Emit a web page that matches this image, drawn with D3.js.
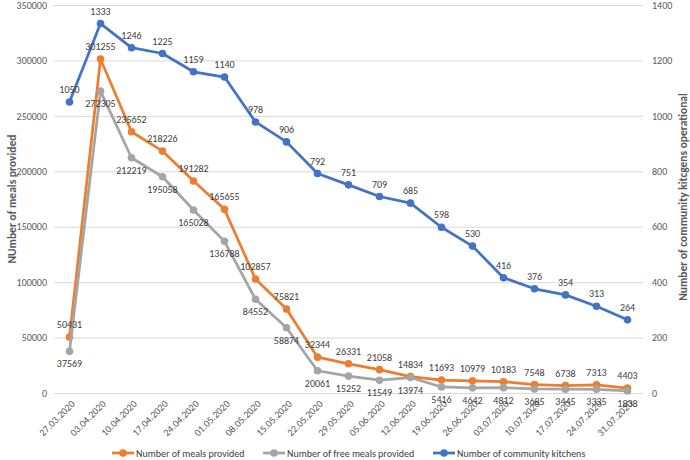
<!DOCTYPE html>
<html>
<head>
<meta charset="utf-8">
<script src="https://cdn.jsdelivr.net/npm/d3@7"></script>
<style>
    body { margin: 0; background: #fff; }
    text { font-family: Calibri, Carlito, 'Open Sans', sans-serif; }
</style>
</head>
<body>
<div class="main"></div>
<script>
var dates = ['27.03.2020', '03.04.2020', '10.04.2020', '17.04.2020', '24.04.2020', '01.05.2020',
    '08.05.2020', '15.05.2020', '22.05.2020', '29.05.2020', '05.06.2020', '12.06.2020', '19.06.2020',
    '26.06.2020', '03.07.2020', '10.07.2020', '17.07.2020', '24.07.2020', '31.07.2020'];
var meals = [50431, 301255, 235652, 218226, 191282, 165655, 102857, 75821, 32344, 26331, 21058,
    14834, 11693, 10979, 10183, 7548, 6738, 7313, 4403];
var freeMeals = [37569, 272305, 212219, 195058, 165028, 136788, 84552, 58874, 20061, 15252, 11549,
    13974, 5416, 4642, 4812, 3685, 3445, 3335, 1838];
var kitchens = [1050, 1333, 1246, 1225, 1159, 1140, 978, 906, 792, 751, 709, 685, 598, 530, 416,
    376, 354, 313, 264];
var leftTicks = [0, 50000, 100000, 150000, 200000, 250000, 300000, 350000];
var rightTicks = [0, 200, 400, 600, 800, 1000, 1200, 1400];

var options = {
    'width': 690,
    'height': 460,
    'left': 54,
    'right': 643,
    'top': 5,
    'bottom': 393
};

var svg = d3.select('.main')
    .append('svg')
    .attr('width', options.width)
    .attr('height', options.height);

var x = d3.scalePoint().domain(dates).range([options.left, options.right]).padding(0.5);
var yL = d3.scaleLinear().domain([0, 350000]).range([options.bottom, options.top]);
var yR = d3.scaleLinear().domain([0, 1400]).range([options.bottom, options.top]);

// grid
svg.append('g')
    .selectAll('line')
    .data(leftTicks)
    .enter()
    .append('line')
    .attr('x1', options.left)
    .attr('x2', options.right)
    .attr('y1', function (d) { return yL(d) + 0.5; })
    .attr('y2', function (d) { return yL(d) + 0.5; })
    .style('stroke', '#d9d9d9')
    .style('stroke-width', '1px');

// left axis
var gL = svg.append('g')
    .attr('transform', 'translate(' + [options.left - 7, 0] + ')')
    .call(d3.axisLeft(yL).tickValues(leftTicks).tickSize(0).tickPadding(0).tickFormat(d3.format('d')));
gL.select('.domain').remove();
gL.selectAll('text').style('fill', '#595959').style('font-size', '10px');

// right axis
var gR = svg.append('g')
    .attr('transform', 'translate(' + [options.right + 9, 0] + ')')
    .call(d3.axisRight(yR).tickValues(rightTicks).tickSize(0).tickPadding(0).tickFormat(d3.format('d')));
gR.select('.domain').remove();
gR.selectAll('text').style('fill', '#595959').style('font-size', '10px');

// bottom axis
var gB = svg.append('g')
    .attr('transform', 'translate(' + [0, options.bottom] + ')')
    .call(d3.axisBottom(x).tickSize(0).tickPadding(0));
gB.select('.domain').remove();
gB.selectAll('text')
    .style('fill', '#595959')
    .style('font-size', '10px')
    .attr('text-anchor', 'end')
    .attr('dy', '0.35em')
    .attr('transform', 'translate(3,9) rotate(-45)');

// axis titles
svg.append('text')
    .text('NUmber of meals provided')
    .attr('transform', 'translate(16,199) rotate(-90)')
    .attr('text-anchor', 'middle')
    .style('font-size', '11.5px')
    .style('font-weight', 'bold')
    .style('fill', '#595959');

svg.append('text')
    .text('Number of community kitcgens operational')
    .attr('transform', 'translate(687,197) rotate(-90)')
    .attr('text-anchor', 'middle')
    .style('font-size', '11.5px')
    .style('font-weight', 'bold')
    .style('fill', '#595959');

var series = [
    { name: 'Number of meals provided', values: meals, y: yL, color: '#ED7D31', dy: -9 },
    { name: 'Number of free meals provided', values: freeMeals, y: yL, color: '#A5A5A5', dy: 16 },
    { name: 'Number of community kitchens', values: kitchens, y: yR, color: '#4472C4', dy: -9 }
];

series.forEach(function (s) {
    var line = d3.line()
        .x(function (d, i) { return x(dates[i]); })
        .y(function (d) { return s.y(d); });

    svg.append('path')
        .attr('d', line(s.values))
        .style('fill', 'none')
        .style('stroke', s.color)
        .style('stroke-width', '2.75px')
        .style('stroke-linejoin', 'round');

    svg.append('g')
        .selectAll('circle')
        .data(s.values)
        .enter()
        .append('circle')
        .attr('cx', function (d, i) { return x(dates[i]); })
        .attr('cy', function (d) { return s.y(d); })
        .attr('r', 3.8)
        .style('fill', s.color);
});

series.forEach(function (s) {
    svg.append('g')
        .selectAll('text')
        .data(s.values)
        .enter()
        .append('text')
        .text(function (d) { return d; })
        .attr('x', function (d, i) { return x(dates[i]); })
        .attr('y', function (d) { return s.y(d) + s.dy; })
        .attr('text-anchor', 'middle')
        .style('font-size', '10px')
        .style('fill', '#404040');
});

// legend
var legendX = [112, 263, 433];
var legend = svg.selectAll('.legend')
    .data(series)
    .enter()
    .append('g')
    .attr('class', 'legend')
    .attr('transform', function (d, i) { return 'translate(' + [legendX[i], 453] + ')'; });

legend.append('line')
    .attr('x1', 0)
    .attr('x2', 22)
    .attr('y1', 0)
    .attr('y2', 0)
    .style('stroke', function (d) { return d.color; })
    .style('stroke-width', '2.75px');

legend.append('circle')
    .attr('cx', 11)
    .attr('cy', 0)
    .attr('r', 3.8)
    .style('fill', function (d) { return d.color; });

legend.append('text')
    .text(function (d) { return d.name; })
    .attr('x', 24)
    .attr('y', 0)
    .attr('dy', '0.35em')
    .style('font-size', '10px')
    .style('fill', '#404040');
</script>
</body>
</html>
